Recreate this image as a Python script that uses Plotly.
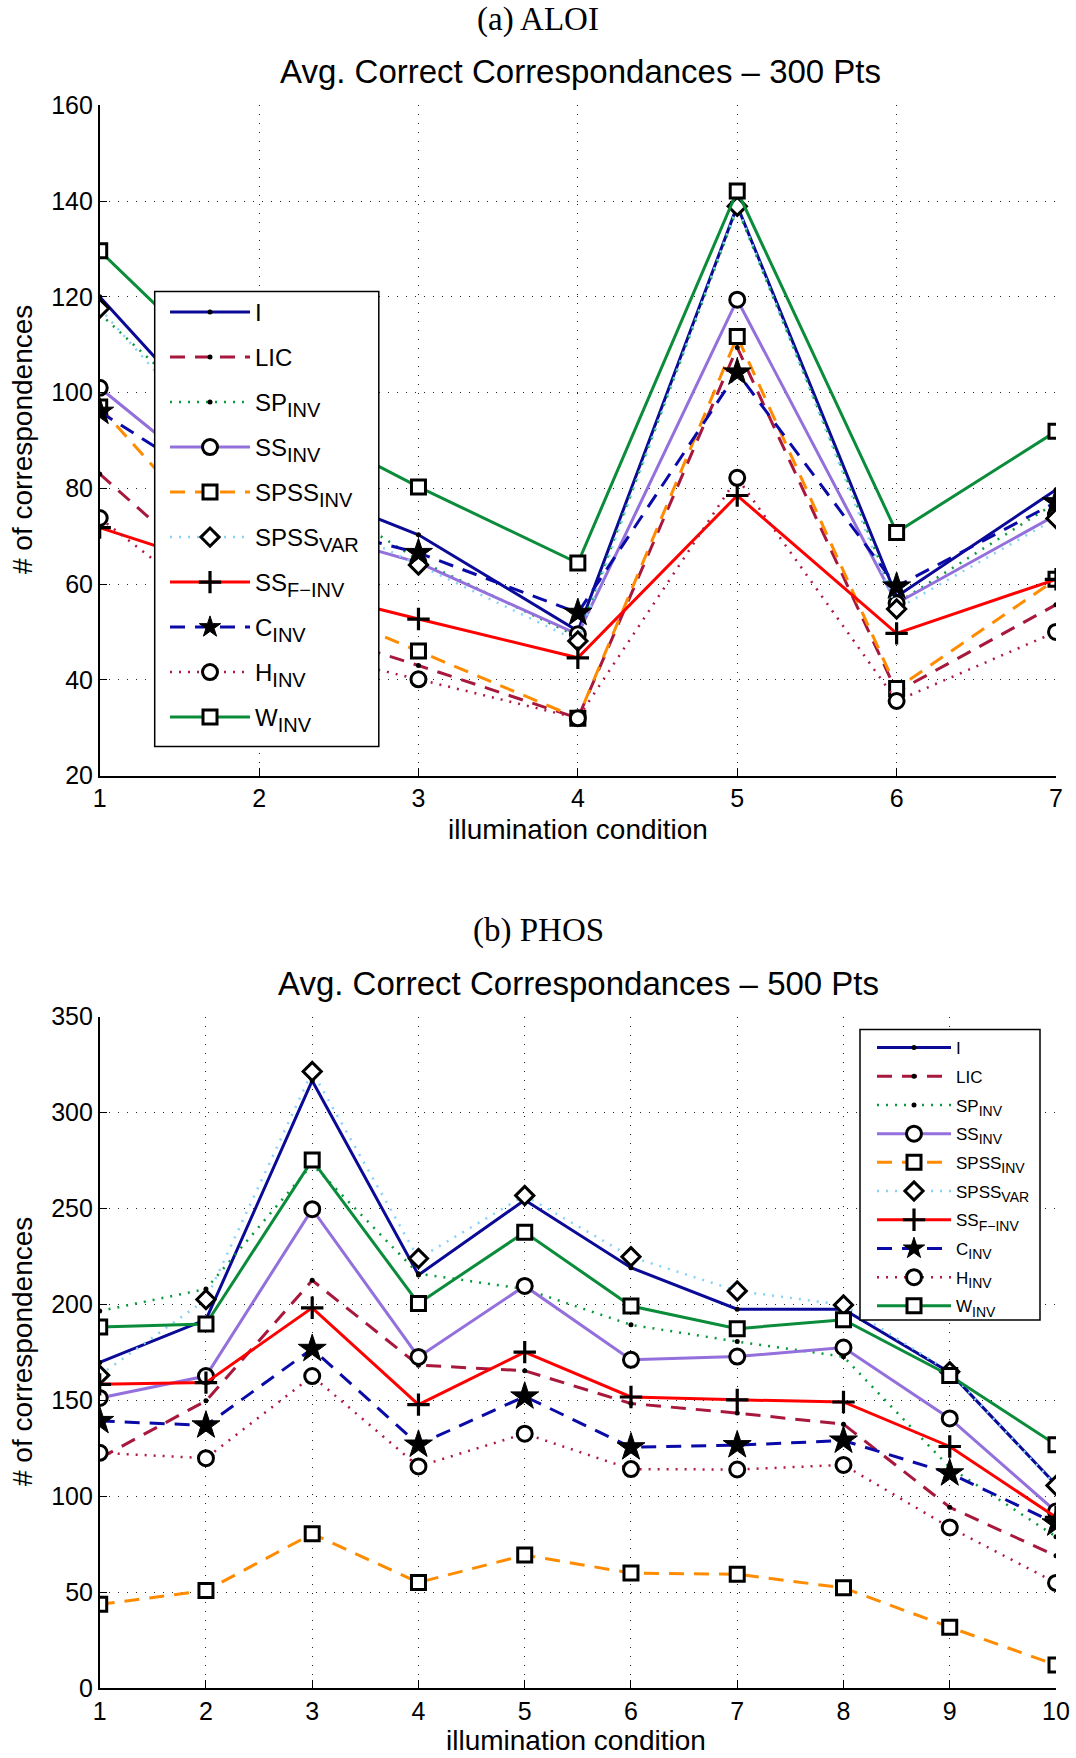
import plotly.graph_objects as go

# ---------------- data ----------------
series_base = ["I", "LIC", "SP", "SS", "SPSS", "SPSS", "SS", "C", "H", "W"]
series_sub = ["", "", "INV", "INV", "INV", "VAR", "F\u2212INV", "INV", "INV", "INV"]

# (a) ALOI, 300 points, illumination conditions 1..7
aloi_conditions = [1, 2, 3, 4, 5, 6, 7]
aloi_I        = [120.0, 83.5, 70.3, 50.2, 139.0, 57.4, 79.7]
aloi_LIC      = [83.0, 53.5, 43.0, 32.0, 109.4, 37.5, 55.7]
aloi_SP_INV   = [116.5, 86.0, 65.0, 49.0, 138.5, 56.0, 77.0]
aloi_SS_INV   = [101.0, 74.0, 64.5, 49.5, 119.4, 56.0, 74.4]
aloi_SPSS_INV = [97.0, 60.0, 46.0, 32.0, 111.7, 38.2, 61.0]
aloi_SPSS_VAR = [117.6, 80.0, 64.0, 48.1, 138.9, 54.8, 73.7]
aloi_SS_F_INV = [71.8, 61.0, 52.7, 44.6, 78.5, 49.7, 61.0]
aloi_C_INV    = [96.0, 75.0, 66.5, 54.0, 104.2, 59.5, 77.1]
aloi_H_INV    = [73.8, 48.0, 40.1, 32.0, 82.2, 35.6, 50.0]
aloi_W_INV    = [129.6, 97.5, 80.3, 64.4, 142.1, 70.8, 91.9]

# (b) PHOS, 500 points, illumination conditions 1..10
phos_conditions = [1, 2, 3, 4, 5, 6, 7, 8, 9, 10]
phos_I        = [169.7, 192.0, 316.6, 215.3, 254.4, 219.1, 197.5, 197.5, 164.5, 106.0]
phos_LIC      = [119.8, 149.7, 212.5, 168.3, 165.4, 148.3, 143.3, 137.5, 94.2, 68.9]
phos_SP_INV   = [196.5, 208.0, 273.0, 216.0, 208.0, 189.3, 180.6, 172.7, 115.0, 78.9]
phos_SS_INV   = [151.2, 162.6, 249.6, 172.6, 209.6, 171.1, 172.8, 177.5, 140.5, 92.0]
phos_SPSS_INV = [43.6, 50.8, 80.4, 55.0, 69.3, 59.9, 59.3, 52.2, 31.7, 12.0]
phos_SPSS_VAR = [163.1, 202.5, 321.4, 223.9, 256.7, 224.8, 207.0, 199.7, 164.9, 105.6]
phos_SS_F_INV = [158.3, 159.2, 198.2, 147.7, 175.1, 151.7, 150.2, 149.1, 125.9, 89.0]
phos_C_INV    = [139.2, 136.9, 176.8, 126.9, 152.0, 125.5, 126.6, 129.0, 111.9, 85.8]
phos_H_INV    = [122.6, 119.8, 162.6, 115.5, 132.6, 114.1, 113.9, 116.3, 83.7, 54.8]
phos_W_INV    = [188.2, 189.7, 275.2, 200.5, 237.6, 199.1, 187.3, 192.0, 162.9, 126.8]

aloi_series = [aloi_I, aloi_LIC, aloi_SP_INV, aloi_SS_INV, aloi_SPSS_INV,
               aloi_SPSS_VAR, aloi_SS_F_INV, aloi_C_INV, aloi_H_INV, aloi_W_INV]
phos_series = [phos_I, phos_LIC, phos_SP_INV, phos_SS_INV, phos_SPSS_INV,
               phos_SPSS_VAR, phos_SS_F_INV, phos_C_INV, phos_H_INV, phos_W_INV]

aloi_yticks = [20, 40, 60, 80, 100, 120, 140, 160]
phos_yticks = [0, 50, 100, 150, 200, 250, 300, 350]

# ---------------- styles ----------------
DASH = "15px,10px"
DOT = "2px,7px"
line_styles = [
    dict(color="#0A0A96", dash="solid", width=3),
    dict(color="#A8173C", dash=DASH, width=3),
    dict(color="#0A9A3C", dash=DOT, width=2.5),
    dict(color="#9370DB", dash="solid", width=3),
    dict(color="#FF8C00", dash=DASH, width=3),
    dict(color="#87D3F8", dash=DOT, width=2.5),
    dict(color="#FF0000", dash="solid", width=3),
    dict(color="#0A0AA8", dash=DASH, width=3),
    dict(color="#B01840", dash=DOT, width=2.5),
    dict(color="#0A8C3A", dash="solid", width=3),
]
BLK = "#000000"
marker_styles = [
    dict(symbol="circle", size=5, color=BLK, line=dict(width=0)),
    dict(symbol="circle", size=5, color=BLK, line=dict(width=0)),
    dict(symbol="circle", size=5, color=BLK, line=dict(width=0)),
    dict(symbol="circle", size=15, color="white", line=dict(color=BLK, width=3)),
    dict(symbol="square", size=14, color="white", line=dict(color=BLK, width=3)),
    dict(symbol="diamond", size=14, color="white", line=dict(color=BLK, width=3)),
    dict(symbol="cross-thin", size=16, color=BLK, line=dict(color=BLK, width=3.2)),
    dict(symbol="star", size=21, color=BLK, line=dict(color=BLK, width=1)),
    dict(symbol="circle", size=15, color="white", line=dict(color=BLK, width=3)),
    dict(symbol="square", size=14, color="white", line=dict(color=BLK, width=3)),
]

FIG_W, FIG_H = 1076, 1758
SANS = "Liberation Sans, Arial, Helvetica, sans-serif"
SERIF = "Liberation Serif, Times New Roman, serif"


def label(i, sub_px):
    """legend entry with a subscript of the given pixel size"""
    if not series_sub[i]:
        return series_base[i]
    return '%s<span style="font-size:%.1fpx"><sub>%s</sub></span>' % (
        series_base[i], sub_px / 0.7, series_sub[i])


fig = go.Figure()

for i in range(len(series_base)):
    fig.add_trace(go.Scatter(
        x=aloi_conditions, y=aloi_series[i], name=label(i, 20), mode="lines+markers",
        line=line_styles[i], marker=marker_styles[i],
        xaxis="x", yaxis="y", legend="legend", legendgroup="a%d" % i))
for i in range(len(series_base)):
    fig.add_trace(go.Scatter(
        x=phos_conditions, y=phos_series[i], name=label(i, 14), mode="lines+markers",
        line=line_styles[i], marker=marker_styles[i],
        xaxis="x2", yaxis="y2", legend="legend2", legendgroup="b%d" % i))


def py(px):
    """pixel row from the top of the page -> paper coordinate"""
    return 1 - px / FIG_H


def pxx(px):
    return px / FIG_W


axis_common = dict(
    showline=True, linecolor=BLK, linewidth=1.5, mirror=False,
    ticks="inside", ticklen=8, tickwidth=1.2, tickcolor=BLK,
    showgrid=True, gridcolor="#222222", gridwidth=1, griddash="1px,8px",
    zeroline=False, automargin=False,
    tickfont=dict(family=SANS, size=25, color=BLK),
)

x_dom = [pxx(99.7), pxx(1056)]
fig.update_layout(
    width=FIG_W, height=FIG_H,
    margin=dict(l=0, r=0, t=0, b=0, autoexpand=False),
    paper_bgcolor="white", plot_bgcolor="white",
    font=dict(family=SANS, color=BLK),
    xaxis=dict(domain=x_dom, range=[1, 7], tickvals=aloi_conditions, anchor="y",
               **axis_common),
    yaxis=dict(domain=[py(775.6), py(105.3)], range=[20, 160], tickvals=aloi_yticks,
               anchor="x", **axis_common),
    xaxis2=dict(domain=x_dom, range=[1, 10], tickvals=phos_conditions, anchor="y2",
                **axis_common),
    yaxis2=dict(domain=[py(1688), py(1016.6)], range=[0, 350], tickvals=phos_yticks,
                anchor="x2", **axis_common),
    legend=dict(x=pxx(165), y=py(290), xanchor="left", yanchor="top",
                bgcolor="rgba(0,0,0,0)", borderwidth=0,
                font=dict(family=SANS, size=24, color=BLK),
                itemwidth=80, tracegroupgap=10.8, traceorder="grouped"),
    legend2=dict(x=pxx(872), y=py(1030), xanchor="left", yanchor="top",
                 bgcolor="rgba(0,0,0,0)", borderwidth=0,
                 font=dict(family=SANS, size=17, color=BLK),
                 itemwidth=74, tracegroupgap=3.6, traceorder="grouped"),
    showlegend=True,
)

# legend frames, drawn over the plot area and under the legend entries
legend_frames = [(154.7, 291.4, 378.8, 746.5), (860, 1029.5, 1040, 1320)]
fig.update_layout(shapes=[
    dict(type="rect", xref="paper", yref="paper", layer="above",
         x0=pxx(l), x1=pxx(r), y0=py(b), y1=py(t),
         fillcolor="white", line=dict(color=BLK, width=1.5))
    for (l, t, r, b) in legend_frames
])

annotations = [
    dict(text="(a) ALOI", x=0.5, y=py(20), font=dict(family=SERIF, size=33)),
    dict(text="Avg. Correct Correspondances \u2013 300 Pts", x=pxx(580), y=py(72),
         font=dict(family=SANS, size=33)),
    dict(text="illumination condition", x=pxx(578), y=py(829), font=dict(family=SANS, size=28)),
    dict(text="# of correspondences", x=pxx(22), y=py(440), textangle=-90,
         font=dict(family=SANS, size=28)),
    dict(text="(b) PHOS", x=0.5, y=py(930), font=dict(family=SERIF, size=33)),
    dict(text="Avg. Correct Correspondances \u2013 500 Pts", x=pxx(578), y=py(983),
         font=dict(family=SANS, size=33)),
    dict(text="illumination condition", x=pxx(576), y=py(1740), font=dict(family=SANS, size=28)),
    dict(text="# of correspondences", x=pxx(22), y=py(1352), textangle=-90,
         font=dict(family=SANS, size=28)),
]
for a in annotations:
    a.update(xref="paper", yref="paper", xanchor="center", yanchor="middle",
             showarrow=False)
    a["font"]["color"] = BLK
fig.update_layout(annotations=annotations)

fig.write_html("out.html")
